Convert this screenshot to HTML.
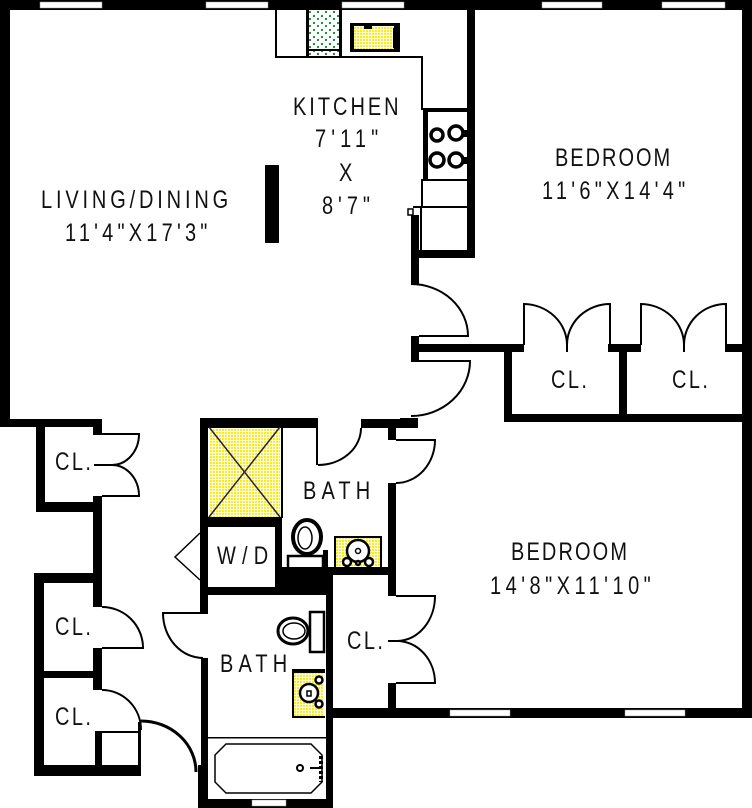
<!DOCTYPE html>
<html><head><meta charset="utf-8"><style>
html,body{margin:0;padding:0;background:#fff}
svg{display:block}
text{font-family:"Liberation Sans",sans-serif;font-size:25px;fill:#111}
</style></head><body>
<svg width="752" height="808" viewBox="0 0 752 808" xmlns="http://www.w3.org/2000/svg">
<defs>
<pattern id="y" width="3" height="3" patternUnits="userSpaceOnUse"><rect width="3" height="3" fill="#fff"/><rect width="2" height="2" fill="#ffee00"/></pattern>
<pattern id="g" width="8" height="7" patternUnits="userSpaceOnUse"><rect width="8" height="7" fill="#fff"/><rect x="1" y="1" width="2" height="2" fill="#1a9a3a"/><rect x="5" y="4" width="2" height="2" fill="#1a9a3a"/></pattern>
</defs>
<rect width="752" height="808" fill="#fff"/>
<!-- fills -->
<rect x="209" y="427" width="71" height="90" fill="url(#y)"/>
<rect x="335" y="537" width="46" height="30" fill="url(#y)"/>
<rect x="294" y="672" width="29" height="45" fill="url(#y)"/>
<rect x="309" y="11" width="30" height="45" fill="url(#g)"/>
<g fill="#000">
<!-- outer walls -->
<rect x="0" y="0" width="752" height="10"/>
<rect x="0" y="0" width="10" height="427"/>
<rect x="742" y="0" width="10" height="718"/>
<rect x="467" y="10" width="8" height="248"/>
<rect x="411" y="250" width="64" height="8"/>
<rect x="411" y="215" width="8" height="69"/>
<rect x="0" y="419" width="102" height="8"/>
<rect x="36" y="419" width="9" height="93"/>
<rect x="36" y="502" width="66" height="10"/>
<rect x="93" y="419" width="9" height="16"/>
<rect x="93" y="496" width="9" height="111"/>
<rect x="34" y="573" width="68" height="10"/>
<rect x="34" y="573" width="10" height="203"/>
<rect x="44" y="671" width="49" height="7"/>
<rect x="93" y="648" width="9" height="42"/>
<rect x="95" y="732" width="7" height="34"/>
<rect x="34" y="765" width="107" height="11"/>
<rect x="138" y="722" width="3" height="44"/>
<rect x="95" y="731" width="45" height="2"/>
<!-- door wall/closets -->
<rect x="411" y="336" width="8" height="26"/>
<rect x="419" y="344" width="105" height="8"/>
<rect x="400" y="418" width="18" height="10"/>
<rect x="504" y="344" width="8" height="78"/>
<rect x="608" y="344" width="33" height="8"/>
<rect x="725" y="344" width="17" height="8"/>
<rect x="619" y="352" width="8" height="62"/>
<rect x="504" y="414" width="248" height="8"/>
<!-- bath block -->
<rect x="200" y="418" width="118" height="10"/>
<rect x="361" y="419" width="45" height="9"/>
<rect x="200" y="418" width="8" height="195"/>
<rect x="201" y="658" width="7" height="150"/>
<rect x="198" y="765" width="10" height="43"/>
<rect x="198" y="799" width="135" height="9"/>
<rect x="326" y="573" width="7" height="235"/>
<rect x="281" y="428" width="2" height="90"/>
<rect x="275" y="517" width="7" height="70"/>
<rect x="208" y="517" width="74" height="10"/>
<rect x="275" y="567" width="58" height="28"/>
<rect x="200" y="587" width="133" height="8"/>
<rect x="333" y="567" width="63" height="8"/>
<rect x="388" y="428" width="8" height="12"/>
<rect x="388" y="483" width="8" height="113"/>
<rect x="388" y="683" width="8" height="30"/>
<rect x="330" y="708" width="422" height="10"/>
<rect x="316" y="428" width="2" height="37"/>
<rect x="208" y="737" width="118" height="1.5"/>
<!-- pillar -->
<rect x="265" y="165" width="14" height="78"/>
<!-- kitchen -->
<rect x="275" y="10" width="2" height="48"/>
<rect x="275" y="56" width="148" height="2"/>
<rect x="421" y="57" width="2" height="53"/>
<rect x="423" y="108" width="5" height="72"/>
<rect x="423" y="108" width="44" height="4"/>
<rect x="421" y="179" width="46" height="2"/>
<rect x="421" y="180" width="2" height="27"/>
<rect x="413" y="206" width="54" height="2"/>
<rect x="420" y="207" width="2" height="44"/>
<rect x="306" y="10" width="3" height="47"/>
<rect x="339" y="10" width="3" height="47"/>
<rect x="308" y="49" width="32" height="2"/>
</g>
<!-- windows -->
<g fill="#fff" stroke="#999" stroke-width=".5">
<rect x="40" y="2" width="62" height="6"/>
<rect x="206" y="2" width="62" height="6"/>
<rect x="342" y="2" width="62" height="6"/>
<rect x="542" y="2" width="60" height="6"/>
<rect x="662" y="2" width="63" height="6"/>
<rect x="450" y="710" width="60" height="6"/>
<rect x="625" y="710" width="60" height="6"/>
<rect x="252" y="800" width="34" height="6"/>
</g>
<!-- doors -->
<g fill="none" stroke="#000" stroke-width="2">
<path d="M411 284A57 52 0 0 1 468 336H419"/>
<path d="M419 361H470A59 55 0 0 1 411 416"/>
<path d="M524 345V304A44 41 0 0 1 567 345"/>
<path d="M610 345V304A43 41 0 0 0 567 345"/>
<path d="M567 338V352"/>
<path d="M641 345V304A44 41 0 0 1 684 345"/>
<path d="M726 345V304A42 41 0 0 0 684 345"/>
<path d="M684 338V352"/>
<path d="M102 434H139A27 31 0 0 1 112 465H94"/>
<path d="M112 465A27 31 0 0 1 139 496H102"/>
<path d="M102 607A41 41 0 0 1 143 648H102"/>
<path d="M102 690A39 40 0 0 1 141 730"/>
<path d="M141 721A55 51 0 0 1 196 772" stroke-width="3"/>
<path d="M318 465A43 37 0 0 0 361 428"/>
<path d="M396 440H435A39 43 0 0 1 396 483"/>
<path d="M396 596H435A38 45 0 0 1 397 641"/>
<path d="M388 641H397A38 42 0 0 1 435 683H396" />
<path d="M208 613H163A40 45 0 0 0 203 658"/>
<path d="M200 533L175 557L200 580" stroke-width="1.5"/>
<path d="M209 427L280 517M280 427L209 517" stroke="#223" stroke-width="1.5"/>
<rect x="408" y="209" width="5" height="6" stroke-width="1.5" fill="#fff"/>
<!-- tub -->
<path d="M226 744H311L322 755V782L311 793H226L215 782V755Z" stroke-width="1.5"/>
<circle cx="300" cy="768" r="3"/>
<path d="M310 768H322"/>
<path d="M321 756v26" stroke-width="4" stroke-dasharray="3 2"/>
</g>
<!-- kitchen sink -->
<rect x="350" y="23" width="50" height="29" fill="#000"/>
<rect x="354" y="26" width="40" height="23" fill="url(#y)"/>
<rect x="364" y="26" width="8" height="3" fill="#000"/>
<rect x="393" y="28" width="2" height="20" fill="#000"/>
<!-- burners -->
<g fill="#fff" stroke="#000" stroke-width="3.5">
<circle cx="437" cy="135" r="6"/><circle cx="456" cy="133" r="7"/>
<circle cx="437" cy="160" r="7"/><circle cx="456" cy="160" r="7"/>
</g>
<rect x="462" y="130" width="5" height="7"/><rect x="462" y="157" width="5" height="7"/>
<!-- upper toilet -->
<g fill="#fff" stroke="#000">
<path d="M288 567V556H323V567" stroke-width="2.5"/>
<rect x="323" y="550" width="5" height="17" fill="#000" stroke="none"/>
<ellipse cx="307" cy="537" rx="14" ry="17" stroke-width="4"/>
<ellipse cx="305" cy="538" rx="7" ry="11" stroke-width="1.5"/>
</g>
<!-- upper sink -->
<g fill="none" stroke="#000">
<path d="M335 567V537H381V567" stroke-width="2"/>
<g fill="#fff" stroke-width="2.5">
<circle cx="358" cy="551" r="11"/><circle cx="347" cy="562" r="4"/><circle cx="369" cy="562" r="4"/><circle cx="358" cy="563" r="2"/>
</g>
<circle cx="358" cy="551" r="2.5" stroke-width="1.5"/>
</g>
<!-- lower toilet -->
<g fill="#fff" stroke="#000">
<rect x="310" y="612" width="14" height="40" stroke-width="2.5"/>
<ellipse cx="293" cy="631" rx="15" ry="13" stroke-width="3"/>
<ellipse cx="294" cy="631" rx="11" ry="8" stroke-width="1.5"/>
</g>
<!-- lower sink -->
<g stroke="#000" fill="none">
<rect x="292" y="669" width="33" height="4" fill="#000" stroke="none"/>
<path d="M293 673V717H325" stroke-width="2"/>
<g fill="#fff" stroke-width="2.5">
<circle cx="309" cy="693" r="9"/><circle cx="319" cy="680" r="3.5"/><circle cx="319" cy="704" r="3.5"/>
</g>
<rect x="307" y="691" width="4" height="5" stroke-width="1.5"/>
</g>
<!-- labels -->
<g>
<text transform="translate(41,208) scale(.8,1)" textLength="234" lengthAdjust="spacing">LIVING/DINING</text>
<text transform="translate(65,241) scale(.8,1)" textLength="178" lengthAdjust="spacing">11'4"X17'3"</text>
<text transform="translate(293,115) scale(.8,1)" textLength="132" lengthAdjust="spacing">KITCHEN</text>
<text transform="translate(315,147) scale(.8,1)" textLength="79" lengthAdjust="spacing">7'11"</text>
<text transform="translate(339,181) scale(.8,1)">X</text>
<text transform="translate(322,214) scale(.8,1)" textLength="60" lengthAdjust="spacing">8'7"</text>
<text transform="translate(555,166) scale(.8,1)" textLength="144" lengthAdjust="spacing">BEDROOM</text>
<text transform="translate(542,199) scale(.8,1)" textLength="179" lengthAdjust="spacing">11'6"X14'4"</text>
<text transform="translate(511,560) scale(.8,1)" textLength="145" lengthAdjust="spacing">BEDROOM</text>
<text transform="translate(490,594) scale(.8,1)" textLength="201" lengthAdjust="spacing">14'8"X11'10"</text>
<text transform="translate(551,388) scale(.8,1)" textLength="45" lengthAdjust="spacing">CL.</text>
<text transform="translate(672,388) scale(.8,1)" textLength="45" lengthAdjust="spacing">CL.</text>
<text transform="translate(55,470) scale(.8,1)" textLength="45" lengthAdjust="spacing">CL.</text>
<text transform="translate(55,635) scale(.8,1)" textLength="45" lengthAdjust="spacing">CL.</text>
<text transform="translate(55,725) scale(.8,1)" textLength="45" lengthAdjust="spacing">CL.</text>
<text transform="translate(347,649) scale(.8,1)" textLength="45" lengthAdjust="spacing">CL.</text>
<text transform="translate(303,499) scale(.8,1)" textLength="84" lengthAdjust="spacing">BATH</text>
<text transform="translate(220,672) scale(.8,1)" textLength="84" lengthAdjust="spacing">BATH</text>
<text transform="translate(217,564) scale(.8,1)" textLength="64" lengthAdjust="spacing">W/D</text>
</g>
</svg>
</body></html>
